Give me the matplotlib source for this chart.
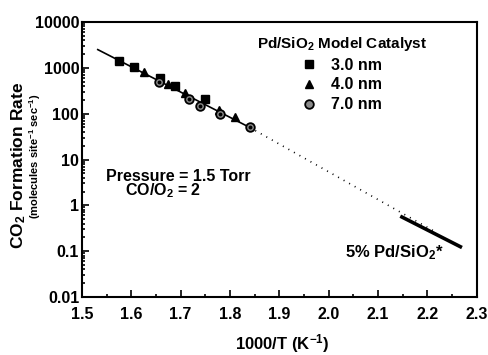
import numpy as np
import matplotlib
matplotlib.use('Agg')
import matplotlib.pyplot as plt
from matplotlib.ticker import MultipleLocator, LogLocator, FixedLocator, FixedFormatter
from matplotlib.lines import Line2D

plt.rcParams['font.family'] = ['Liberation Sans', 'DejaVu Sans']
plt.rcParams['font.weight'] = 'bold'
plt.rcParams['mathtext.fontset'] = 'custom'
plt.rcParams['mathtext.rm'] = 'Liberation Sans:bold'
plt.rcParams['mathtext.bf'] = 'Liberation Sans:bold'
plt.rcParams['mathtext.it'] = 'Liberation Sans:bold'

# 3.0 nm particles
x_30 = [1.575, 1.606, 1.659, 1.688, 1.749]
r_30 = [1440, 1020, 600, 400, 214]
# 4.0 nm particles
x_40 = [1.626, 1.674, 1.708, 1.778, 1.810]
r_40 = [830, 440, 282, 120, 85]
# 7.0 nm particles
x_70 = [1.656, 1.717, 1.740, 1.779, 1.840]
r_70 = [500, 208, 147, 98, 50]

# Arrhenius fit (solid), extrapolation (dotted), 5% Pd/SiO2 (thick)
fit_x = [1.532, 1.840]
fit_r = [2500, 50]
extrap_x = [1.840, 2.220]
extrap_r = [50, 0.25]
supported_x = [2.145, 2.270]
supported_r = [0.58, 0.12]

y_ticks = [0.01, 0.1, 1, 10, 100, 1000, 10000]
y_labels = ['0.01', '0.1', '1', '10', '100', '1000', '10000']

fig = plt.figure(figsize=(4.88, 3.55), dpi=100)
ax = fig.add_axes([0.168, 0.1634, 0.809, 0.7746])

ax.plot(fit_x, fit_r, color='black', lw=1.2, zorder=2)
ax.plot(extrap_x, extrap_r, color='black', lw=1.2, ls=(0, (0.6, 3.2)), zorder=2)
ax.plot(supported_x, supported_r, color='black', lw=2.6, solid_capstyle='butt', zorder=2)

ax.plot(x_30, r_30, ls='none', marker='s', ms=5.5, mfc='black', mec='black', zorder=3)
ax.plot(x_40, r_40, ls='none', marker='^', ms=6, mfc='black', mec='black', zorder=3)
ax.plot(x_70, r_70, ls='none', marker='o', ms=6.2, mfc='#8a8a8a', mec='black', mew=1.3, zorder=3)
ax.plot(x_70, r_70, ls='none', marker='o', ms=1.8, mfc='black', mec='black', zorder=4)

ax.set_yscale('log')
ax.set_xlim(1.5, 2.3)
ax.set_ylim(0.01, 10000)

ax.xaxis.set_major_locator(MultipleLocator(0.1))
ax.xaxis.set_minor_locator(MultipleLocator(0.05))
ax.xaxis.set_major_formatter(plt.FuncFormatter(lambda v, p: '%.1f' % v))
ax.yaxis.set_major_locator(FixedLocator(y_ticks))
ax.yaxis.set_major_formatter(FixedFormatter(y_labels))
ax.yaxis.set_minor_locator(LogLocator(base=10, subs=np.arange(2, 10), numticks=20))
ax.yaxis.set_minor_formatter(plt.NullFormatter())

ax.tick_params(which='both', direction='in', top=False, right=False, width=1.2)
ax.tick_params(which='major', length=5, labelsize=11.5)
ax.tick_params(axis='y', which='major', pad=2)
ax.tick_params(axis='x', which='major', pad=7)
ax.tick_params(which='minor', length=2.5)
for lab in ax.get_xticklabels() + ax.get_yticklabels():
    lab.set_fontweight('bold')
for s in ax.spines.values():
    s.set_linewidth(1.5)

handles = [
    Line2D([], [], ls='none', marker='s', ms=5.5, mfc='black', mec='black'),
    Line2D([], [], ls='none', marker='^', ms=6, mfc='black', mec='black'),
    Line2D([], [], ls='none', marker='o', ms=6.2, mfc='#8a8a8a', mec='black', mew=1.3),
]
leg = ax.legend(handles, ['3.0 nm', '4.0 nm', '7.0 nm'],
                title=r'Pd/SiO$_\mathbf{2}$ Model Catalyst',
                loc='upper left', bbox_to_anchor=(0.41, 1.0), frameon=False,
                prop={'size': 11.5, 'weight': 'bold'},
                title_fontproperties={'size': 11, 'weight': 'bold'},
                labelspacing=0.3, handlelength=1.0, handletextpad=0.9,
                borderpad=0.3)

ax.text(0.061, 0.44, 'Pressure = 1.5 Torr', transform=ax.transAxes,
        fontsize=11.5, fontweight='bold', va='center', ha='left')
ax.text(0.109, 0.385, r'CO/O$_\mathbf{2}$ = 2', transform=ax.transAxes,
        fontsize=11.5, fontweight='bold', va='center', ha='left')
ax.text(0.666, 0.162, r'5% Pd/SiO$_\mathbf{2}$*', transform=ax.transAxes,
        fontsize=12, fontweight='bold', va='center', ha='left')

fig.text(0.038, 0.535, r'CO$_\mathbf{2}$ Formation Rate', rotation=90,
         fontsize=12.5, fontweight='bold', ha='center', va='center')
fig.text(0.072, 0.56, r'(molecules site$^\mathbf{-1}$ sec$^\mathbf{-1}$)', rotation=90,
         fontsize=8, fontweight='bold', ha='center', va='center')
fig.text(0.578, 0.033, r'1000/T (K$^\mathbf{-1}$)', fontsize=12,
         fontweight='bold', ha='center', va='center')

fig.savefig('out.png', dpi=100)
